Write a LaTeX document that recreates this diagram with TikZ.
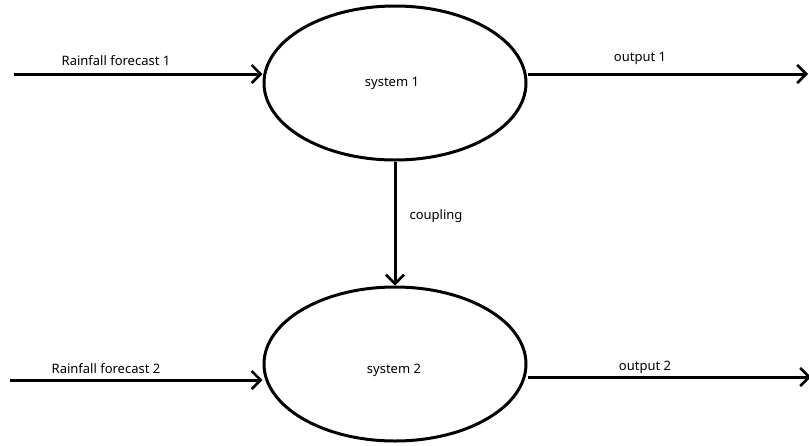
\documentclass[tikz,border=0pt]{standalone}
\usepackage{fontspec}
\setmainfont{Noto Sans}
\usetikzlibrary{shapes.geometric,arrows.meta}
\begin{document}
\begin{tikzpicture}[x=1pt,y=-1pt,
  sys/.style={draw,ellipse,line width=3pt,minimum width=262pt,minimum height=154pt,inner sep=0pt},
  flow/.style={line width=3pt,-{Straight Barb[length=9pt,width=18pt,line width=2.6pt]}},
  lbl/.style={font=\fontsize{13}{15}\selectfont,inner sep=0pt}]
\useasboundingbox (0,0) rectangle (809,445);
\node[sys] (s1) at (395,83) {};
\node[sys] (s2) at (395,364) {};
\node[lbl] (t1) at (392,83) {system 1};
\node[lbl] (t2) at (394,370) {system 2};
\coordinate (in1) at (14,74);
\coordinate (out1) at (808,74);
\coordinate (in2) at (10,380);
\coordinate (out2) at (811,377);
\draw[flow] (in1) -- (s1.west |- in1);
\draw[flow] (s1.east |- out1) -- (out1);
\draw[flow] (in2) -- (s2.west |- in2);
\draw[flow] (s2.east |- out2) -- (out2);
\draw[flow] (s1.south) -- (s2.north);
\node[lbl] (l1) at (116,61) {Rainfall forecast 1};
\node[lbl] (l2) at (640,58) {output 1};
\node[lbl] (l3) at (436,216) {coupling};
\node[lbl] (l4) at (106,369) {Rainfall forecast 2};
\node[lbl] (l5) at (645,367) {output 2};
\end{tikzpicture}
\end{document}
